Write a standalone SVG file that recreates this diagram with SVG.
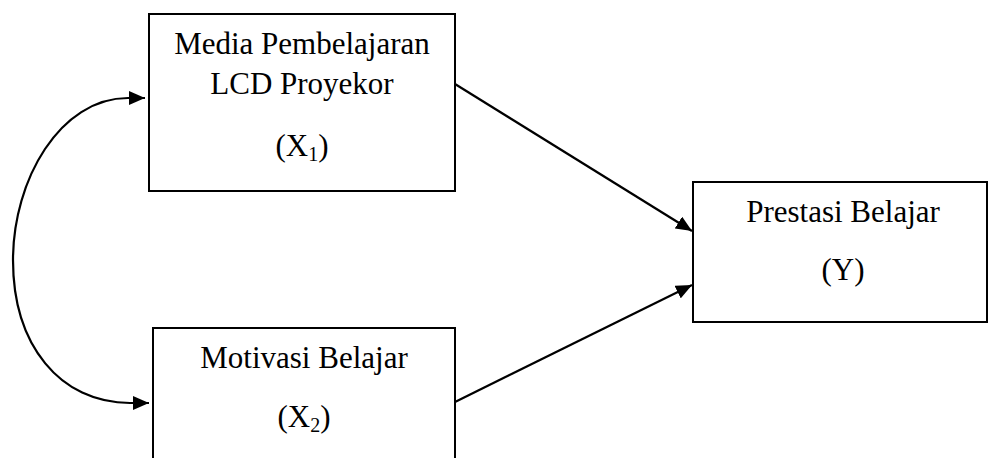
<svg xmlns="http://www.w3.org/2000/svg" width="989" height="458" viewBox="0 0 989 458">
<style>
.box{fill:#fff;stroke:#000;stroke-width:2}
.t{font-family:"Liberation Serif","Times New Roman",serif;font-size:31px;fill:#000;text-anchor:middle}
.sub{font-size:20px}
.c{fill:none;stroke:#000;stroke-width:2.2}
</style>
<defs>
<marker id="ah" markerWidth="16" markerHeight="14" refX="16" refY="7" orient="auto" markerUnits="userSpaceOnUse">
<path d="M0,0 L16,7 L0,14 Z" fill="#000"/>
</marker>
<marker id="ahs" markerWidth="16" markerHeight="14" refX="16" refY="7" orient="auto-start-reverse" markerUnits="userSpaceOnUse">
<path d="M0,0 L16,7 L0,14 Z" fill="#000"/>
</marker>
</defs>
<rect width="989" height="458" fill="#fff"/>
<g id="x1">
<rect class="box" x="149" y="14" width="306" height="177"/>
<text class="t" x="302" y="54">Media Pembelajaran</text>
<text class="t" x="302" y="94">LCD Proyekor</text>
<text class="t" x="302" y="156">(X<tspan class="sub" dy="5">1</tspan><tspan dy="-5">)</tspan></text>
</g>
<g id="x2">
<rect class="box" x="153" y="328" width="302" height="200"/>
<text class="t" x="304" y="368">Motivasi Belajar</text>
<text class="t" x="304" y="427">(X<tspan class="sub" dy="5">2</tspan><tspan dy="-5">)</tspan></text>
</g>
<g id="y">
<rect class="box" x="693" y="182" width="294" height="140"/>
<text class="t" x="843" y="222">Prestasi Belajar</text>
<text class="t" x="843" y="280">(Y)</text>
</g>
<g id="connectors">
<line class="c" x1="455" y1="84" x2="692" y2="231" marker-end="url(#ah)"/>
<line class="c" x1="455" y1="402" x2="692" y2="285" marker-end="url(#ah)"/>
<path class="c" d="M 145 98 L 128 98 C 60 98 13 180 13 260 C 13 345 60 403 130 403 L 149 403" marker-start="url(#ahs)" marker-end="url(#ah)"/>
</g>
</svg>
